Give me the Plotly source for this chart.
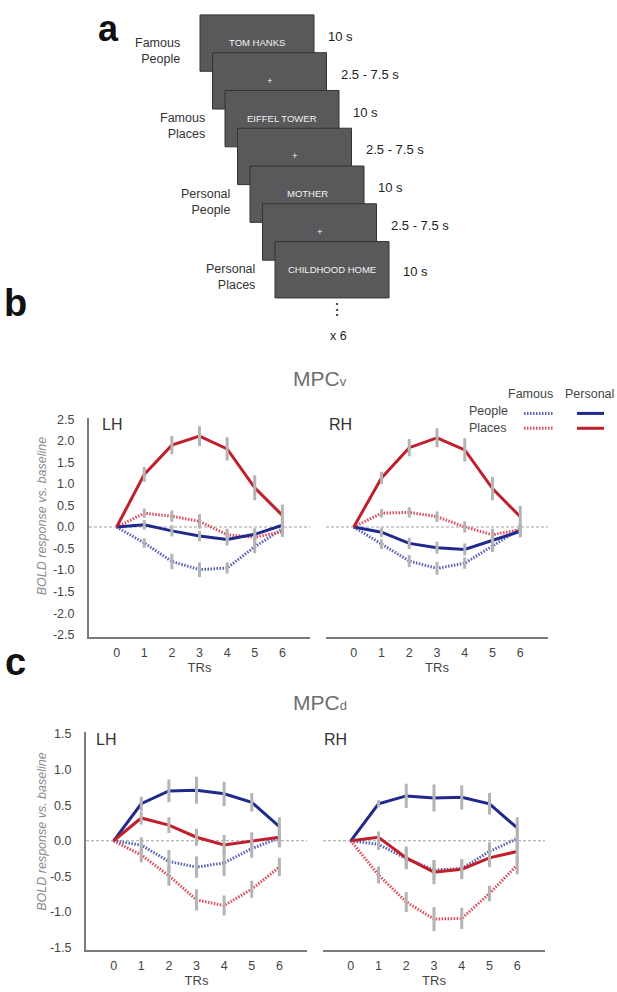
import plotly.graph_objects as go

W, H = 617, 992
FONT = "Liberation Sans, Arial, sans-serif"

# ---- data ----
trs = [0, 1, 2, 3, 4, 5, 6]

# MPCv (panel b)
mpcv_lh_fam_people = [0, -0.37, -0.80, -0.99, -0.95, -0.46, -0.04]
mpcv_lh_fam_places = [0, 0.32, 0.25, 0.13, -0.18, -0.24, -0.11]
mpcv_lh_per_people = [0, 0.05, -0.09, -0.21, -0.29, -0.17, 0.04]
mpcv_lh_per_places = [0, 1.22, 1.90, 2.11, 1.81, 0.91, 0.27]
mpcv_lh_fam_people_se = [0, 0.11, 0.18, 0.17, 0.13, 0.15, 0.12]
mpcv_lh_fam_places_se = [0, 0.11, 0.13, 0.17, 0.14, 0.15, 0.12]
mpcv_lh_per_people_se = [0, 0.11, 0.13, 0.12, 0.14, 0.14, 0.14]
mpcv_lh_per_places_se = [0, 0.17, 0.21, 0.23, 0.27, 0.29, 0.25]

mpcv_rh_fam_people = [0, -0.40, -0.79, -0.96, -0.84, -0.44, -0.04]
mpcv_rh_fam_places = [0, 0.32, 0.34, 0.24, 0.00, -0.18, -0.06]
mpcv_rh_per_people = [0, -0.12, -0.38, -0.48, -0.52, -0.31, -0.10]
mpcv_rh_per_places = [0, 1.14, 1.84, 2.07, 1.79, 0.89, 0.24]
mpcv_rh_fam_people_se = [0, 0.11, 0.14, 0.15, 0.13, 0.14, 0.12]
mpcv_rh_fam_places_se = [0, 0.10, 0.12, 0.12, 0.13, 0.14, 0.12]
mpcv_rh_per_people_se = [0, 0.11, 0.13, 0.14, 0.14, 0.14, 0.14]
mpcv_rh_per_places_se = [0, 0.14, 0.20, 0.22, 0.27, 0.27, 0.25]

# MPCd (panel c)
mpcd_lh_fam_people = [0, -0.06, -0.29, -0.37, -0.31, -0.11, 0.04]
mpcd_lh_fam_places = [0, -0.20, -0.49, -0.83, -0.91, -0.68, -0.37]
mpcd_lh_per_people = [0, 0.52, 0.70, 0.71, 0.66, 0.54, 0.20]
mpcd_lh_per_places = [0, 0.32, 0.22, 0.05, -0.06, 0.00, 0.05]
mpcd_lh_fam_people_se = [0, 0.11, 0.16, 0.15, 0.19, 0.13, 0.13]
mpcd_lh_fam_places_se = [0, 0.10, 0.14, 0.15, 0.14, 0.12, 0.13]
mpcd_lh_per_people_se = [0, 0.10, 0.16, 0.19, 0.17, 0.13, 0.13]
mpcd_lh_per_places_se = [0, 0.09, 0.11, 0.12, 0.14, 0.12, 0.14]

mpcd_rh_fam_people = [0, -0.05, -0.25, -0.41, -0.39, -0.15, 0.03]
mpcd_rh_fam_places = [0, -0.48, -0.86, -1.10, -1.09, -0.74, -0.34]
mpcd_rh_per_people = [0, 0.52, 0.63, 0.60, 0.61, 0.52, 0.18]
mpcd_rh_per_places = [0, 0.05, -0.24, -0.44, -0.40, -0.24, -0.15]
mpcd_rh_fam_people_se = [0, 0.08, 0.14, 0.14, 0.13, 0.13, 0.16]
mpcd_rh_fam_places_se = [0, 0.12, 0.14, 0.17, 0.15, 0.11, 0.13]
mpcd_rh_per_people_se = [0, 0.05, 0.17, 0.19, 0.17, 0.15, 0.15]
mpcd_rh_per_places_se = [0, 0.08, 0.16, 0.17, 0.14, 0.13, 0.16]

# task diagram (panel a)
screen_texts = ["TOM HANKS", "+", "EIFFEL TOWER", "+", "MOTHER", "+", "CHILDHOOD HOME"]
durations = ["10 s", "2.5 - 7.5 s", "10 s", "2.5 - 7.5 s", "10 s", "2.5 - 7.5 s", "10 s"]
conditions = ["Famous<br>People", "", "Famous<br>Places", "", "Personal<br>People", "", "Personal<br>Places"]

C_PER_PEOPLE = "#1f2a8c"
C_PER_PLACES = "#c01f2c"
C_FAM_PEOPLE = "#5860b4"
C_FAM_PLACES = "#dc4a5c"
C_ERR = "#b4b4b4"
DOT = "1.5px,1.5px"


def px(x):
    return x / W


def py(y):
    return 1 - y / H


fig = go.Figure()

panels = [
    ("x", "y", mpcv_lh_fam_people, mpcv_lh_fam_places, mpcv_lh_per_people, mpcv_lh_per_places,
     mpcv_lh_fam_people_se, mpcv_lh_fam_places_se, mpcv_lh_per_people_se, mpcv_lh_per_places_se),
    ("x2", "y2", mpcv_rh_fam_people, mpcv_rh_fam_places, mpcv_rh_per_people, mpcv_rh_per_places,
     mpcv_rh_fam_people_se, mpcv_rh_fam_places_se, mpcv_rh_per_people_se, mpcv_rh_per_places_se),
    ("x3", "y3", mpcd_lh_fam_people, mpcd_lh_fam_places, mpcd_lh_per_people, mpcd_lh_per_places,
     mpcd_lh_fam_people_se, mpcd_lh_fam_places_se, mpcd_lh_per_people_se, mpcd_lh_per_places_se),
    ("x4", "y4", mpcd_rh_fam_people, mpcd_rh_fam_places, mpcd_rh_per_people, mpcd_rh_per_places,
     mpcd_rh_fam_people_se, mpcd_rh_fam_places_se, mpcd_rh_per_people_se, mpcd_rh_per_places_se),
]

for xa, ya, fpe, fpl, ppe, ppl, fpe_se, fpl_se, ppe_se, ppl_se in panels:
    series = [
        (fpe, fpe_se, C_FAM_PEOPLE, DOT),
        (fpl, fpl_se, C_FAM_PLACES, DOT),
        (ppe, ppe_se, C_PER_PEOPLE, "solid"),
        (ppl, ppl_se, C_PER_PLACES, "solid"),
    ]
    for vals, se, col, dash in series:
        fig.add_trace(go.Scatter(x=trs, y=vals, mode="lines", xaxis=xa, yaxis=ya,
                                 line=dict(color=col, width=3, dash=dash),
                                 showlegend=False, hoverinfo="skip"))
    # error bars drawn over the lines
    for vals, se, col, dash in series:
        fig.add_trace(go.Scatter(x=trs[1:], y=vals[1:], mode="markers", xaxis=xa, yaxis=ya,
                                 marker=dict(size=1, color="rgba(0,0,0,0)"),
                                 error_y=dict(type="data", array=se[1:], visible=True,
                                              color=C_ERR, thickness=3, width=0),
                                 showlegend=False, hoverinfo="skip"))

axis_common = dict(tickfont=dict(family=FONT, size=12.5, color="#444"), showgrid=False,
                   zeroline=False, linecolor="#7a7a7a", linewidth=2)

xdoms = [(89, 310), (326, 548), (86, 307), (323, 545)]
ydoms = [(417, 638), (417, 638), (734, 955), (734, 955)]
yranges = [[-2.55, 2.52], [-2.55, 2.52], [-1.54, 1.53], [-1.54, 1.53]]
yticks = [[2.5, 2, 1.5, 1, 0.5, 0, -0.5, -1, -1.5, -2, -2.5],
          [1.5, 1, 0.5, 0, -0.5, -1, -1.5]]

layout = {}
for i in range(4):
    sfx = "" if i == 0 else str(i + 1)
    x0, x1 = xdoms[i]
    y0, y1 = ydoms[i]
    layout["xaxis" + sfx] = dict(axis_common, domain=[px(x0), px(x1)], range=[-1, 7],
                                 anchor="y" + sfx, tickvals=trs, showline=True,
                                 ticks="", ticklabelstandoff=3,
                                 title=dict(text="TRs", font=dict(family=FONT, size=13, color="#444"),
                                            standoff=0))
    tv = yticks[0] if i < 2 else yticks[1]
    left = i in (0, 2)
    layout["yaxis" + sfx] = dict(axis_common, domain=[py(y1), py(y0)], range=yranges[i],
                                 anchor="x" + sfx, tickvals=tv,
                                 ticktext=["%.1f" % v for v in tv],
                                 showline=left, showticklabels=left, ticks="",
                                 ticklabelstandoff=10)

shapes = []
# dashed zero lines
for i in range(4):
    sfx = "" if i == 0 else str(i + 1)
    shapes.append(dict(type="line", xref="x" + sfx, yref="y" + sfx, x0=-1, x1=7, y0=0, y1=0,
                       line=dict(color="#a0a0a0", width=1, dash="3px,2px"), layer="below"))

annotations = []


def txt(x, y, s, size=13, color="#333", xa="center", ya="middle", **kw):
    annotations.append(dict(x=px(x), y=py(y), xref="paper", yref="paper", text=s,
                            showarrow=False, xanchor=xa, yanchor=ya,
                            font=dict(family=FONT, size=size, color=color), **kw))


# panel a: staggered screens
for i, s in enumerate(screen_texts):
    rx0 = 200 + i * 12.5
    ry0 = 9 + i * 38.2
    shapes.append(dict(type="rect", xref="paper", yref="paper",
                       x0=px(rx0), x1=px(rx0 + 114), y0=py(ry0 + 57), y1=py(ry0),
                       fillcolor="#59595b", line=dict(color="#333", width=1)))
    txt(rx0 + 57, ry0 + 28, s, size=9.5, color="#f2f2f2")
    dy = 30 if i == len(screen_texts) - 1 else 22
    txt(rx0 + 126, ry0 + dy, durations[i], size=13, color="#222", xa="left")
    if conditions[i]:
        txt(rx0 - 18, ry0 + 36, conditions[i], size=12.5, color="#333", xa="right", align="right")

txt(337, 307, "\u22ee", size=16, color="#222")
txt(338, 334, "x 6", size=12.5, color="#222")

# panel letters
txt(108, 0, "<b>a</b>", size=36, color="#111", ya="top")
txt(15, 300, "<b>b</b>", size=38, color="#111")
txt(15, 663, "<b>c</b>", size=38, color="#111")

# region titles
txt(320, 377, "MPC<span style='font-size:13px'>v</span>", size=21, color="#6e6e6e")
txt(320, 704, "MPC<span style='font-size:13px'>d</span>", size=21, color="#6e6e6e")

# hemisphere labels
for x, y, s in [(100, 423, "LH"), (327, 423, "RH"), (94, 742, "LH"), (322, 742, "RH")]:
    txt(x, y, s, size=16, color="#333", xa="left")

# y axis titles
for yc in (516, 835):
    annotations.append(dict(x=px(42), y=py(yc), xref="paper", yref="paper",
                            text="<i>BOLD response vs. baseline</i>", textangle=-90,
                            showarrow=False, xanchor="center", yanchor="middle",
                            font=dict(family=FONT, size=12.5, color="#8a8a8a")))

# legend
txt(530, 392, "Famous", size=12.5, color="#444")
txt(589, 392, "Personal", size=12.5, color="#444")
txt(467, 410, "People", size=12.5, color="#444", xa="left")
txt(467, 427, "Places", size=12.5, color="#444", xa="left")
for ly, cf, cp in [(412, C_FAM_PEOPLE, C_PER_PEOPLE), (427, C_FAM_PLACES, C_PER_PLACES)]:
    shapes.append(dict(type="line", xref="paper", yref="paper", x0=px(524), x1=px(553),
                       y0=py(ly), y1=py(ly), line=dict(color=cf, width=3, dash=DOT)))
    shapes.append(dict(type="line", xref="paper", yref="paper", x0=px(577), x1=px(604),
                       y0=py(ly), y1=py(ly), line=dict(color=cp, width=3)))

fig.update_layout(width=W, height=H, margin=dict(l=0, r=0, t=0, b=0),
                  paper_bgcolor="white", plot_bgcolor="white",
                  shapes=shapes, annotations=annotations, **layout)

fig.write_html("out.html", config={"displayModeBar": False},
               post_script="document.body.style.margin='0';")
